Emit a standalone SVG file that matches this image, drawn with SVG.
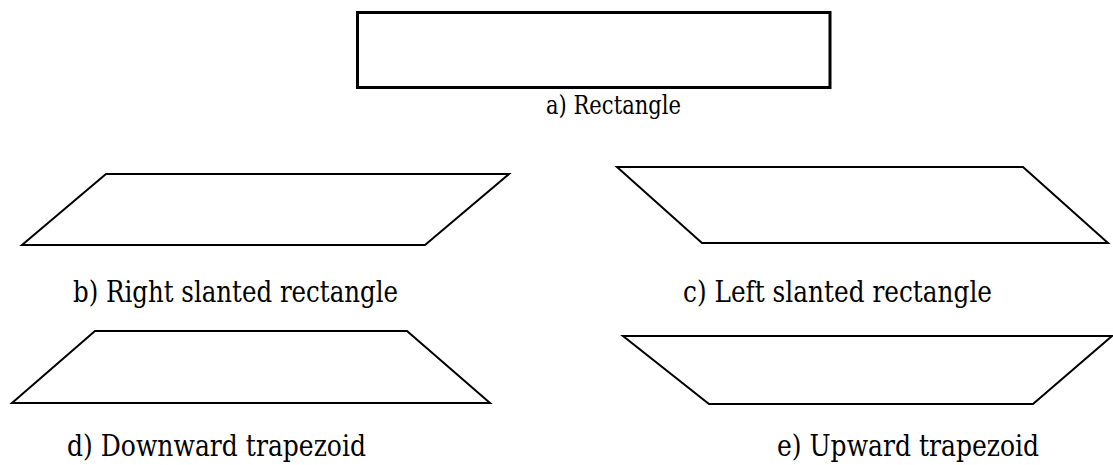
<svg xmlns="http://www.w3.org/2000/svg" width="1113" height="465" viewBox="0 0 1113 465">
  <style>
    .shape { fill: #ffffff; stroke: #000000; stroke-width: 2; stroke-linejoin: miter; }
    .thick { stroke-width: 3; }
    .label { font-family: 'DejaVu Serif', 'Liberation Serif', serif; font-size: 29px; fill: #000000; }
    .small { font-size: 26px; }
  </style>
  <rect width="1113" height="465" fill="#ffffff"/>

  <g id="rectangle">
    <rect class="shape thick" x="357.5" y="12.5" width="472.5" height="75"/>
    <text class="label small" x="546" y="114" textLength="135" lengthAdjust="spacingAndGlyphs">a) Rectangle</text>
  </g>

  <g id="right-slanted">
    <polygon class="shape" points="106,174 509,174 425,245 22,245"/>
    <text class="label" x="73" y="302" textLength="325" lengthAdjust="spacingAndGlyphs">b) Right slanted rectangle</text>
  </g>

  <g id="left-slanted">
    <polygon class="shape" points="617,167 1023,167 1108,243 702,243"/>
    <text class="label" x="683" y="302" textLength="309" lengthAdjust="spacingAndGlyphs">c) Left slanted rectangle</text>
  </g>

  <g id="downward-trapezoid">
    <polygon class="shape" points="95,331 407,331 490,403 12,403"/>
    <text class="label" x="67" y="456" textLength="299" lengthAdjust="spacingAndGlyphs">d) Downward trapezoid</text>
  </g>

  <g id="upward-trapezoid">
    <polygon class="shape" points="623,336 1112,336 1033,404 709,404"/>
    <text class="label" x="777" y="456" textLength="262" lengthAdjust="spacingAndGlyphs">e) Upward trapezoid</text>
  </g>

  <g id="connectors"/>
</svg>
